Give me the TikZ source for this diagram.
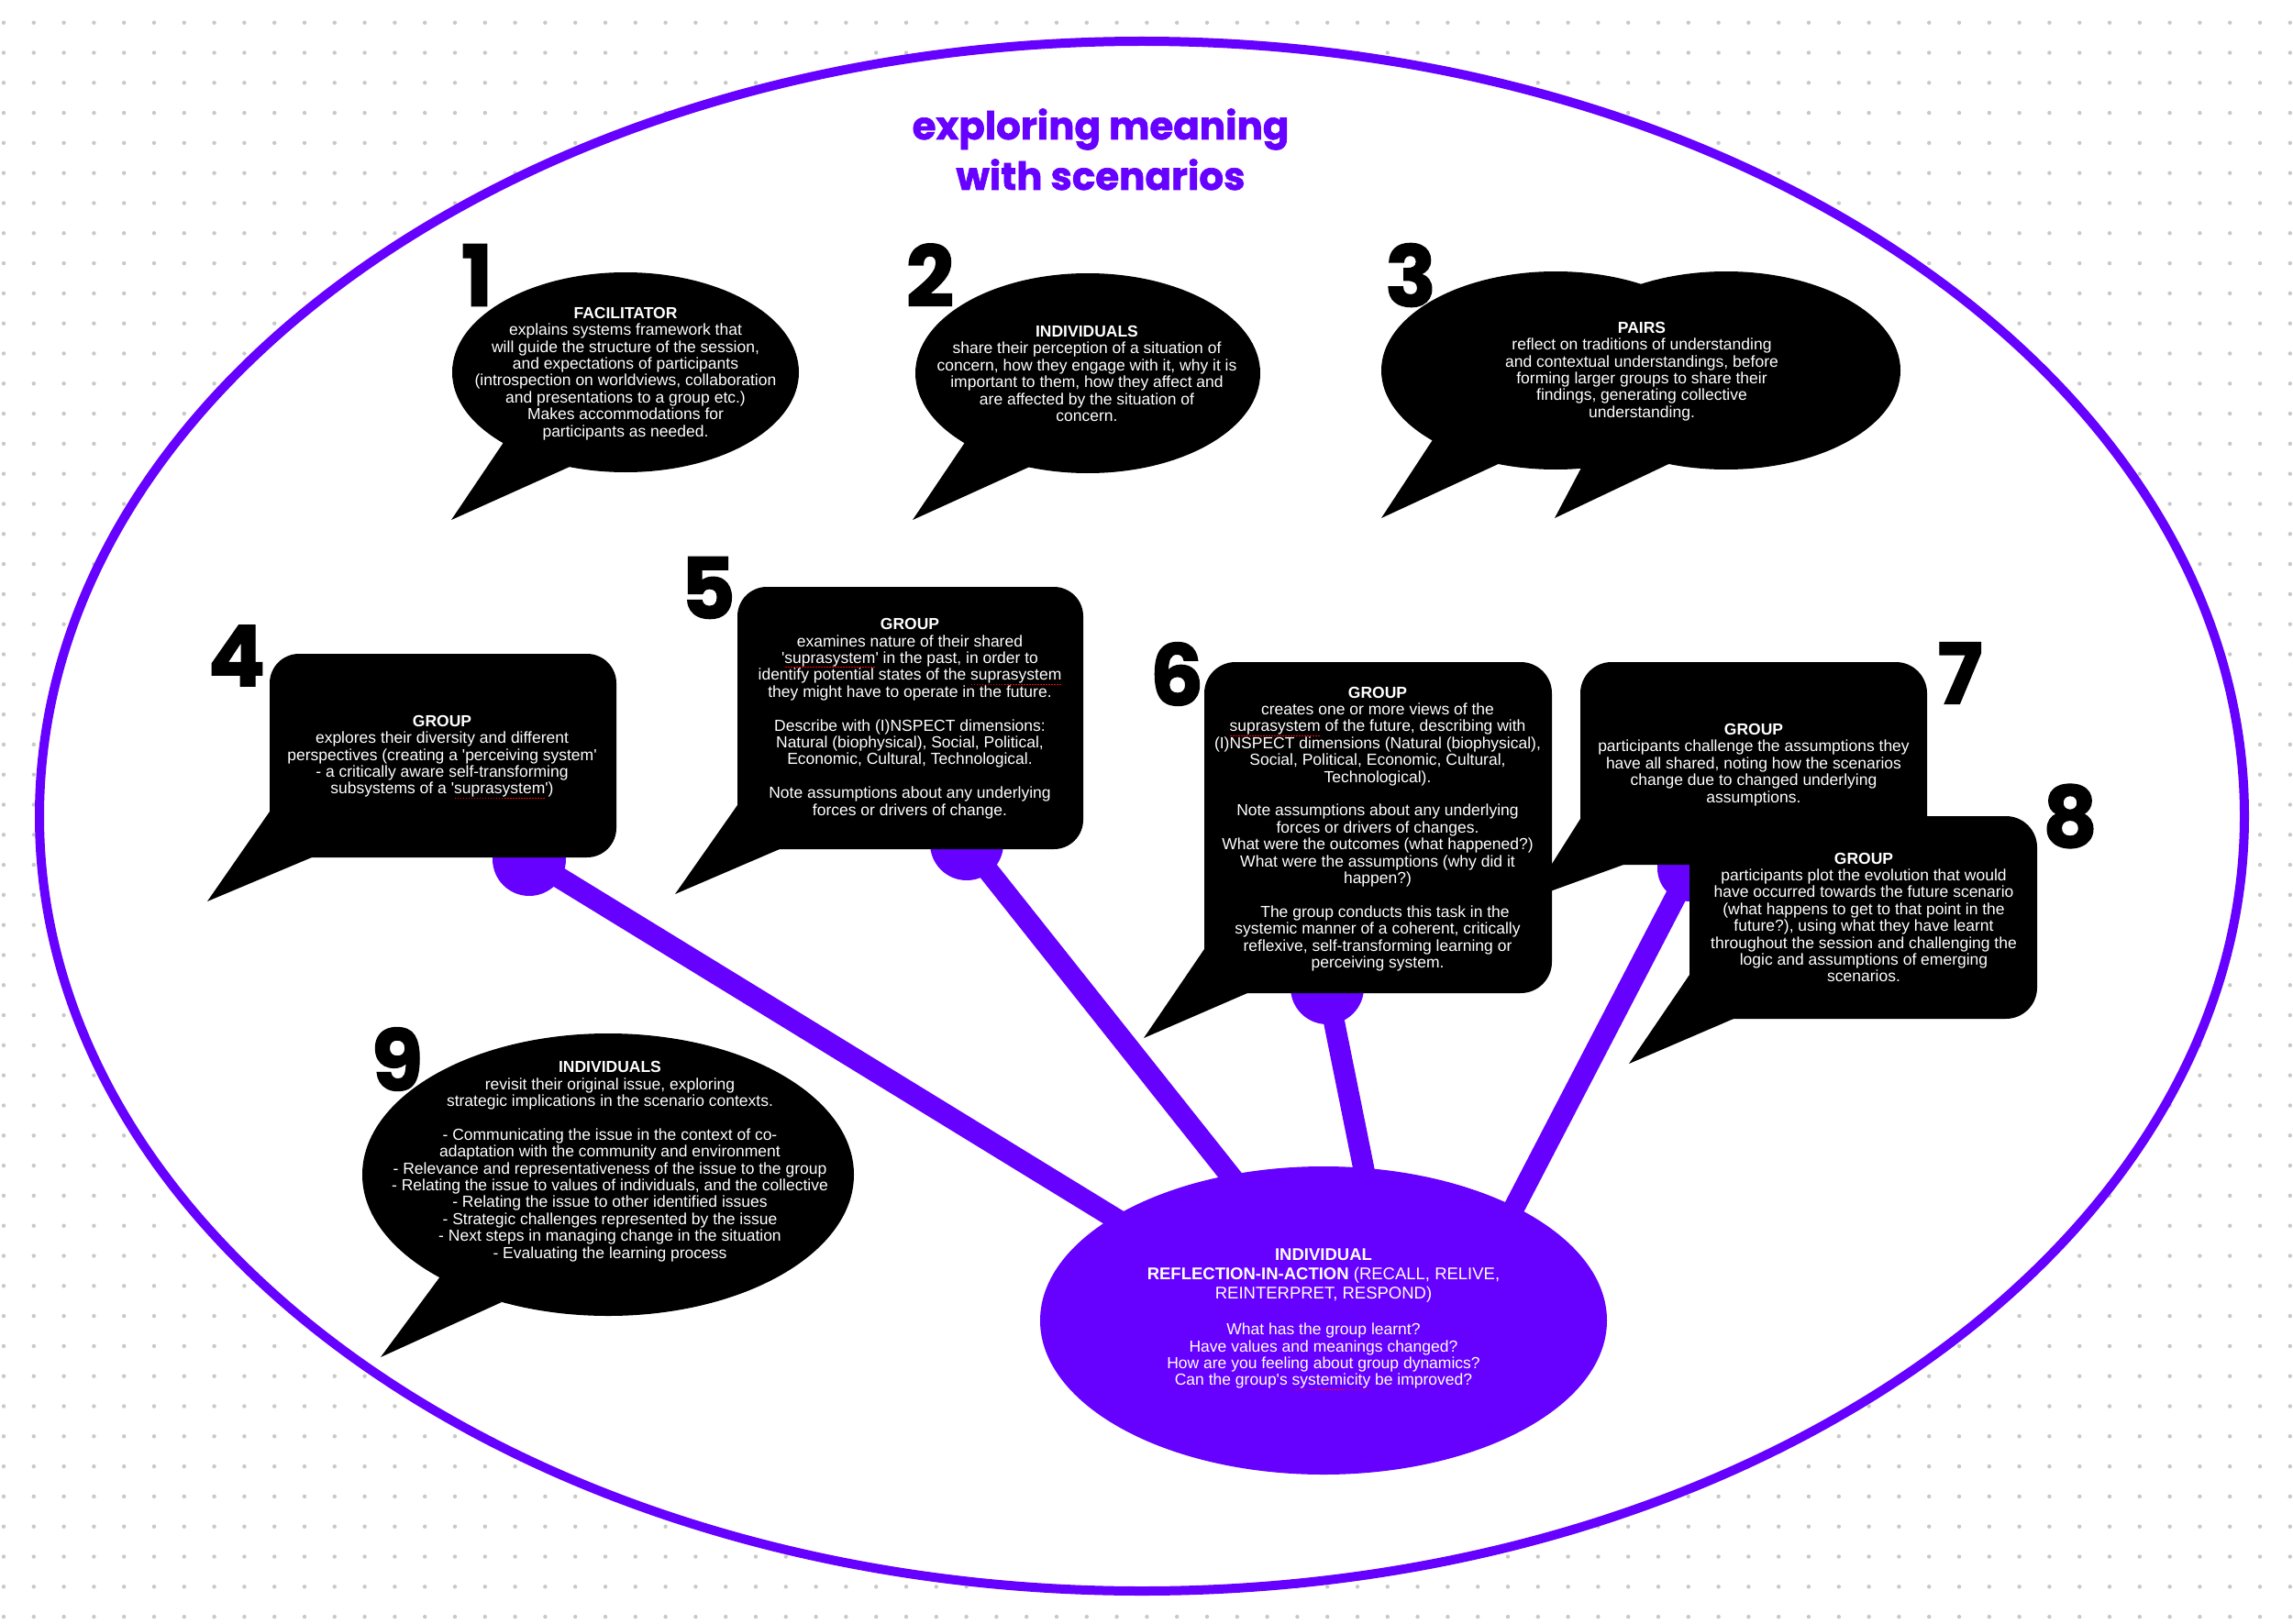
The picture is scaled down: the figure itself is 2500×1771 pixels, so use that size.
\documentclass[tikz,border=0pt]{standalone}
\usepackage{fontspec}
\usetikzlibrary{shapes.geometric}
\setmainfont{Liberation Sans}
\newfontfamily\heavyfont{Poppins}[BoldFeatures={FakeBold=1.5}]
\definecolor{purp}{RGB}{102,0,255}
\definecolor{dotgray}{RGB}{200,200,200}
\newcommand\blankline{\\[18.4pt]}
\newsavebox\sqbox
\newcommand\sqw[1]{\sbox\sqbox{#1}\rlap{\color{red}\raisebox{-5pt}{\hbox to \wd\sqbox{\xleaders\hbox to 3pt{\hss\rule{1.5pt}{1.3pt}\hss}\hfill}}}\usebox\sqbox}
\newcommand\sq{\textquotesingle}
\tikzset{
  txt/.style={text=white, align=center, inner sep=0pt, font=\fontsize{17.5}{18.4}\selectfont},
  hubhead/.style={text=white, align=center, inner sep=0pt, font=\fontsize{18.5}{21}\selectfont},
  num/.style={text=black, inner sep=0pt, font=\heavyfont\bfseries\fontsize{92}{92}\selectfont},
  titletxt/.style={text=purp, inner sep=0pt, anchor=base, font=\heavyfont\bfseries\fontsize{42}{50}\selectfont},
  knob/.style={circle, fill=purp, minimum size=80pt, inner sep=0pt},
  rod/.style={draw=purp, line width=23pt},
  bubble/.style={fill=black},
}
\begin{document}
\begin{tikzpicture}[x=1pt,y=-1pt]
\useasboundingbox (0,0) rectangle (2500,1771);
\fill[white] (0,0) rectangle (2500,1771);
% dot grid
\foreach \j in {0,...,53} {
  \fill[dotgray] \foreach \i in {0,...,76} { (4+32.8*\i, 24.7+32.8*\j) circle [radius=2.2] };
}
% outer ellipse
\draw[purp, line width=10pt, fill=white] (1245,890) ellipse [x radius=1202, y radius=845];

% title
\node[titletxt] (title1) at (1200,152) {exploring meaning};
\node[titletxt] (title2) at (1200,207) {with scenarios};

% knobs and rods
\node[knob] (k4) at (577,937) {};
\node[knob] (k5) at (1054,920) {};
\node[knob] (k6) at (1447,1077) {};
\node[knob, minimum size=72pt] (k8) at (1843,947) {};
\coordinate (r4) at (1262,1357);
\coordinate (r5) at (1362,1308);
\coordinate (r6) at (1493,1305);
\coordinate (r8) at (1643,1332);
\draw[rod] (k4.center) -- (r4);
\draw[rod] (k5.center) -- (r5);
\draw[rod] (k6.center) -- (r6);
\draw[rod] (k8.center) -- (r8);

% bubble 1
\fill[bubble] (682,406) ellipse [x radius=189, y radius=109];
\fill[bubble] (492,567) -- (552,478) -- (630,505) -- cycle;
% bubble 2
\fill[bubble] (1186,407) ellipse [x radius=188, y radius=109];
\fill[bubble] (995,567) -- (1055,478) -- (1127,507) -- cycle;
% bubble 3
\fill[bubble] (1696,404) ellipse [x radius=190, y radius=108];
\fill[bubble] (1882,404) ellipse [x radius=190, y radius=108];
\fill[bubble] (1506,565) -- (1565,475) -- (1640,503) -- cycle;
\fill[bubble] (1695,565) -- (1732,495) -- (1832,500) -- cycle;
% bubble 4
\fill[bubble, rounded corners=32pt] (294,713) rectangle (672,935);
\fill[bubble] (226,983) -- (294,885) -- (340,935) -- cycle;
% bubble 5
\fill[bubble, rounded corners=32pt] (804,640) rectangle (1181,926);
\fill[bubble] (736,975) -- (804,878) -- (850,926) -- cycle;
% bubble 7
\fill[bubble, rounded corners=34pt] (1723,722) rectangle (2101,943);
\fill[bubble] (1668,980) -- (1723,893) -- (1770,943) -- cycle;
% bubble 6
\fill[bubble, rounded corners=34pt] (1313,722) rectangle (1692,1083);
\fill[bubble] (1247,1132) -- (1313,1035) -- (1360,1083) -- cycle;
% bubble 8
\fill[bubble, rounded corners=34pt] (1842,890) rectangle (2221,1111);
\fill[bubble] (1776,1160) -- (1842,1063) -- (1890,1111) -- cycle;
% bubble 9
\fill[bubble] (663,1281) ellipse [x radius=268, y radius=154];
\fill[bubble] (415,1480) -- (480,1392) -- (547,1420) -- cycle;

% hub
\node[ellipse, fill=purp, minimum width=618pt, minimum height=336pt, inner sep=0pt] (hub) at (1443,1440) {};

% numbers
\node[num] (n1) at (520,300) {1};
\node[num] (n2) at (1014,300) {2};
\node[num] (n3) at (1538,300) {3};
\node[num] (n4) at (258,715) {4};
\node[num] (n5) at (772,641) {5};
\node[num] (n6) at (1283,735) {6};
\node[num] (n7) at (2137,734) {7};
\node[num] (n8) at (2257,890) {8};
\node[num] (n9) at (433,1155) {9};

% texts
\node[txt] (t1) at (682,407.5) {\textbf{FACILITATOR}\\
explains systems framework that\\
will guide the structure of the session,\\
and expectations of participants\\
(introspection on worldviews, collaboration\\
and presentations to a group etc.)\\
Makes accommodations for\\
participants as needed.};

\node[txt] (t2) at (1185,407.5) {\textbf{INDIVIDUALS}\\
share their perception of a situation of\\
concern, how they engage with it, why it is\\
important to them, how they affect and\\
are affected by the situation of\\
concern.};

\node[txt] (t3) at (1790,405) {\textbf{PAIRS}\\
reflect on traditions of understanding\\
and contextual understandings, before\\
forming larger groups to share their\\
findings, generating collective\\
understanding.};

\node[txt] (t4) at (482,825.5) {\textbf{GROUP}\\
explores their diversity and different\\
perspectives (creating a \sq perceiving system\sq\\
- a critically aware self-transforming\\
subsystems of a \sq\sqw{suprasystem}\sq)};

\node[txt] (t5) at (992,783.5) {\textbf{GROUP}\\
examines nature of their shared\\
\sq\sqw{suprasystem}\sq{} in the past, in order to\\
identify potential states of the \sqw{suprasystem}\\
they might have to operate in the future.\blankline
Describe with (I)NSPECT dimensions:\\
Natural (biophysical), Social, Political,\\
Economic, Cultural, Technological.\blankline
Note assumptions about any underlying\\
forces or drivers of change.};

\node[txt] (t6) at (1502,904) {\textbf{GROUP}\\
creates one or more views of the\\
\sqw{suprasystem} of the future, describing with\\
(I)NSPECT dimensions (Natural (biophysical),\\
Social, Political, Economic, Cultural,\\
Technological).\blankline
Note assumptions about any underlying\\
forces or drivers of changes.\\
What were the outcomes (what happened?)\\
What were the assumptions (why did it\\
happen?)\blankline
\hspace*{16pt}The group conducts this task in the\\
systemic manner of a coherent, critically\\
reflexive, self-transforming learning or\\
perceiving system.};

\node[txt] (t7) at (1912,834) {\textbf{GROUP}\\
participants challenge the assumptions they\\
have all shared, noting how the scenarios\\
change due to changed underlying\\
assumptions.};

\node[txt] (t8) at (2032,1000.5) {\textbf{GROUP}\\
participants plot the evolution that would\\
have occurred towards the future scenario\\
(what happens to get to that point in the\\
future?), using what they have learnt\\
throughout the session and challenging the\\
logic and assumptions of emerging\\
scenarios.};

\node[txt] (t9) at (665,1266.5) {\textbf{INDIVIDUALS}\\
revisit their original issue, exploring\\
strategic implications in the scenario contexts.\blankline
- Communicating the issue in the context of co-\\
adaptation with the community and environment\\
- Relevance and representativeness of the issue to the group\\
- Relating the issue to values of individuals, and the collective\\
- Relating the issue to other identified issues\\
- Strategic challenges represented by the issue\\
- Next steps in managing change in the situation\\
- Evaluating the learning process};

\node[hubhead] (hubtitle) at (1443,1391) {\textbf{INDIVIDUAL}\\
\textbf{REFLECTION-IN-ACTION} (RECALL, RELIVE,\\
REINTERPRET, RESPOND)};

\node[txt] (hubtext) at (1443,1479.5) {What has the group learnt?\\
Have values and meanings changed?\\
How are you feeling about group dynamics?\\
Can the group\sq s \sqw{systemicity} be improved?};
\end{tikzpicture}
\end{document}
